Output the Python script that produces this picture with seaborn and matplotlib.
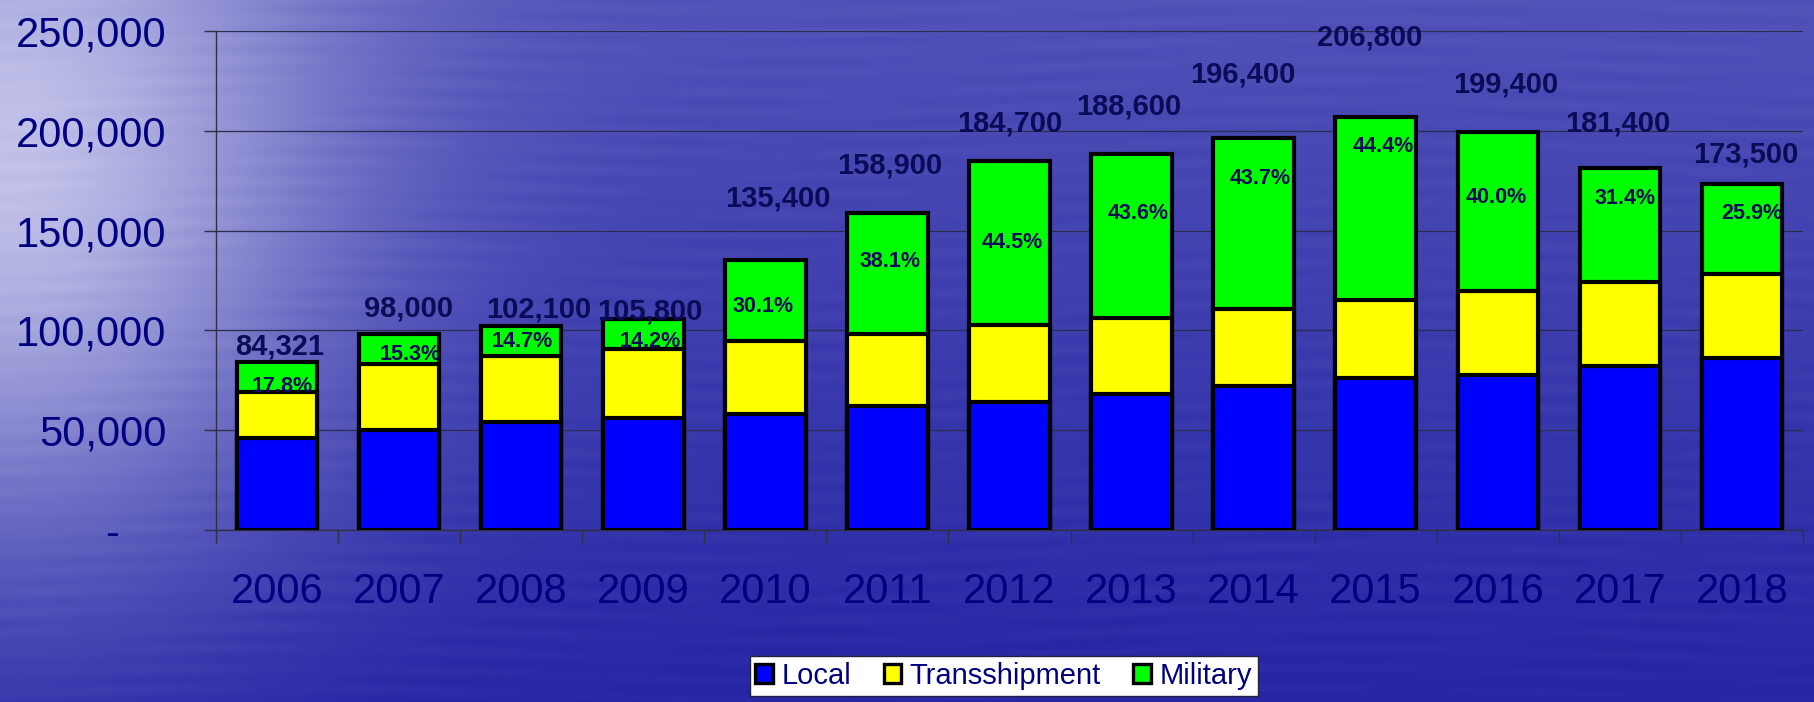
import numpy as np
import pandas as pd
import matplotlib
matplotlib.use('Agg')
import matplotlib.pyplot as plt
from matplotlib.patches import Patch
from matplotlib import font_manager
import seaborn as sns

# Chart data
years = ['2006', '2007', '2008', '2009', '2010', '2011', '2012',
         '2013', '2014', '2015', '2016', '2017', '2018']
local = [46000, 50000, 54000, 56000, 58000, 62000, 64000,
         68000, 72000, 76000, 77500, 82000, 86000]
transshipment = [23300, 33000, 33100, 34800, 36600, 36400, 38500,
                 38400, 38600, 39000, 42100, 42400, 42500]
military = [15021, 15000, 15000, 15000, 40800, 60500, 82200,
            82200, 85800, 91800, 79800, 57000, 45000]
total_labels = ['84,321', '98,000', '102,100', '105,800', '135,400', '158,900', '184,700',
                '188,600', '196,400', '206,800', '199,400', '181,400', '173,500']
military_pct = ['17.8%', '15.3%', '14.7%', '14.2%', '30.1%', '38.1%', '44.5%',
                '43.6%', '43.7%', '44.4%', '40.0%', '31.4%', '25.9%']

# where the labels sit in the original slide (data units / category offsets)
total_label_y = [91800, 111200, 110500, 109500, 166000, 182600, 203800,
                 212100, 228000, 247000, 223000, 203800, 187900]
total_label_dx = [0.025, 0.075, 0.14, 0.05, 0.10, 0.02, 0.0,
                  -0.025, -0.09, -0.05, 0.065, -0.02, 0.035]
pct_label_y = [71800, 87700, 94300, 94300, 111900, 134400, 143900,
               158700, 176200, 192000, 166700, 166200, 158700]
pct_label_dx = [0.04, 0.09, 0.01, 0.06, -0.02, 0.025, 0.02,
                0.05, 0.05, 0.06, -0.015, 0.04, 0.08]

df = pd.DataFrame({'year': years, 'local': local,
                   'transshipment': transshipment, 'military': military})
df['local_trans'] = df['local'] + df['transshipment']
df['total'] = df['local_trans'] + df['military']

sns.set_theme(style='white')
plt.rcParams['font.family'] = ['Liberation Sans', 'DejaVu Sans']

# legend text in the slide is a condensed face
installed = {f.name for f in font_manager.fontManager.ttflist}
if 'Liberation Sans Narrow' in installed:
    legend_font = dict(family='Liberation Sans Narrow', size=24.5)
else:
    legend_font = dict(family='Liberation Sans', size=21)

navy = '#000080'
label_navy = '#0b0b58'
blue, yellow, green = '#0000ff', '#ffff00', '#00ff00'

fig = plt.figure(figsize=(18.15, 7.02), dpi=100)

# Water-like background gradient
H, W = 702, 1815
yy, xx = np.mgrid[0:H, 0:W].astype(float)
light = np.exp(-((xx / 330.0) ** 2 + ((yy - 150) / 380.0) ** 2))
top = 1 - yy / H
t = 0.85 * light + 0.24 * top * (1 - light)
streaks = (0.018 * np.sin(yy * 0.31 + 2.0 * np.sin(xx / 170.0))
           * (0.6 + 0.4 * np.sin(xx / 45.0 + yy / 23.0)))
t = np.clip(t + streaks, 0, 1)
base = np.array([38, 38, 165]) / 255.0
hi = np.array([220, 220, 245]) / 255.0
img = base[None, None, :] * (1 - t[..., None]) + hi[None, None, :] * t[..., None]
bg = fig.add_axes([0, 0, 1, 1])
bg.imshow(img, aspect='auto')
bg.axis('off')

ax = fig.add_axes([0.119, 0.245, 0.8744, 0.7108])
ax.patch.set_alpha(0)

# Stacked bars: draw the cumulative totals back to front
bar_kw = dict(x='year', width=0.66, saturation=1, edgecolor='black',
              linewidth=3, ax=ax, zorder=3)
sns.barplot(data=df, y='total', color=green, **bar_kw)
sns.barplot(data=df, y='local_trans', color=yellow, **bar_kw)
sns.barplot(data=df, y='local', color=blue, **bar_kw)

ax.set_ylim(0, 250000)
ax.set_xlim(-0.5, len(years) - 0.5)
ax.set_xlabel('')
ax.set_ylabel('')

# Labels
for i in range(len(years)):
    ax.text(i + total_label_dx[i], total_label_y[i], total_labels[i],
            ha='center', va='center', fontsize=21, fontweight='bold',
            color=label_navy, zorder=5)
    ax.text(i + pct_label_dx[i], pct_label_y[i], military_pct[i],
            ha='center', va='center', fontsize=15.5, fontweight='bold',
            color=label_navy, zorder=5)

# Axes styling
yticks = np.arange(0, 250001, 50000)
ax.set_yticks(yticks)
ax.set_yticklabels(['-    ' if v == 0 else f'{v:,}' for v in yticks])
ax.tick_params(axis='y', direction='out', length=8.6, width=1, color='#303040',
               pad=27, labelsize=30, labelcolor=navy, left=True)
ax.set_xticks(range(len(years)))
ax.set_xticklabels(years)
ax.set_xticks(np.arange(-0.5, len(years), 1), minor=True)
ax.tick_params(axis='x', which='major', length=0, pad=30, labelsize=30, labelcolor=navy)
ax.tick_params(axis='x', which='minor', direction='out', length=9.4, width=1,
               color='#303040', bottom=True)

ax.yaxis.grid(True, color='#2c2c4c', linewidth=0.9)
ax.xaxis.grid(False)
ax.set_axisbelow(True)
for side in ['top', 'right']:
    ax.spines[side].set_visible(False)
for side in ['left', 'bottom']:
    ax.spines[side].set_color('#303040')
    ax.spines[side].set_linewidth(1)

# Legend at the bottom, running into the figure edge like in the slide
handles = [Patch(facecolor=c, edgecolor='black', linewidth=2.4, label=l)
           for c, l in zip([blue, yellow, green], ['Local', 'Transshipment', 'Military'])]
leg = fig.legend(handles=handles, loc='upper center', bbox_to_anchor=(0.553, 0.0655),
                 bbox_transform=fig.transFigure, ncol=3, prop=legend_font, frameon=True,
                 fancybox=False, framealpha=1, edgecolor='#202040',
                 handlelength=0.6, handleheight=0.6, handletextpad=0.3,
                 columnspacing=1.1, borderpad=0.2, borderaxespad=0)
leg.get_frame().set_facecolor('white')
for txt in leg.get_texts():
    txt.set_color(navy)

fig.savefig('out.png', dpi=100)
